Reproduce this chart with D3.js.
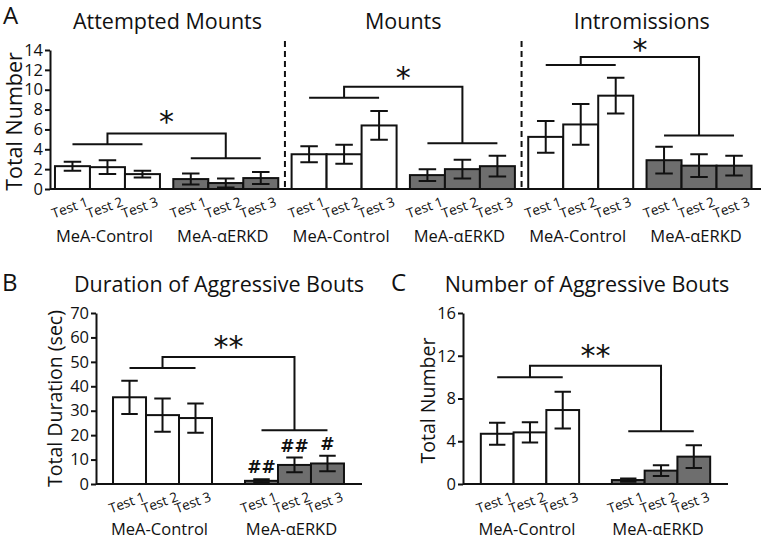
<!DOCTYPE html>
<html><head><meta charset="utf-8">
<script src="https://cdn.jsdelivr.net/npm/d3@7"></script>
<style>body{margin:0;background:#fff}svg{display:block}text{font-family:"Open Sans",sans-serif;fill:#111}</style>
</head><body>
<svg id="c" width="762" height="541"></svg>
<script>
// ---------- data ----------
const groups = ["MeA-Control", "MeA-\u03B1ERKD"];
const tests = ["Test 1", "Test 2", "Test 3"];
const panelATitles = ["Attempted Mounts", "Mounts", "Intromissions"];
const panelATicks = [0, 2, 4, 6, 8, 10, 12, 14];
const panelBTicks = [0, 10, 20, 30, 40, 50, 60, 70];
const panelCTicks = [0, 4, 8, 12, 16];

const attemptedControl = [2.3, 2.2, 1.5];
const attemptedControlSem = [0.45, 0.7, 0.35];
const attemptedErkd = [1.0, 0.6, 1.1];
const attemptedErkdSem = [0.55, 0.45, 0.6];

const mountsControl = [3.5, 3.5, 6.4];
const mountsControlSem = [0.8, 0.95, 1.45];
const mountsErkd = [1.4, 2.0, 2.3];
const mountsErkdSem = [0.6, 0.95, 1.05];

const intromControl = [5.25, 6.5, 9.4];
const intromControlSem = [1.6, 2.05, 1.8];
const intromErkd = [2.9, 2.35, 2.35];
const intromErkdSem = [1.35, 1.15, 1.0];

const durationControl = [35.5, 28.2, 27.0];
const durationControlSem = [6.8, 6.8, 6.0];
const durationErkd = [1.3, 7.8, 8.4];
const durationErkdSem = [0.6, 3.0, 3.2];
const durationHash = ["##", "##", "#"];

const numberControl = [4.7, 4.83, 6.92];
const numberControlSem = [1.03, 0.95, 1.72];
const numberErkd = [0.37, 1.25, 2.56];
const numberErkdSem = [0.15, 0.5, 1.07];

// significance brackets: [control level, top level, ERKD level], star level
const attemptedBracket = [4.5, 5.6, 3.1], attemptedStar = 7.15;
const mountsBracket = [9.2, 10.3, 4.6], mountsStar = 11.6;
const intromBracket = [12.5, 13.3, 5.4], intromStar = 14.4;
const durationBracket = [47.5, 52, 22], durationStar = 57.8;
const numberBracket = [10, 11.07, 4.93], numberStar = 12.35;

// ---------- drawing ----------
const svg = d3.select("#c");
const DARK = "#6e6e6e", LW = 2;

function drawGroups(g, xOuter, keys, y, sets, groupDy) {
  keys.forEach((k, gi) => {
    const set = sets[gi];
    const xi = d3.scaleBand().domain(tests).range([xOuter(k), xOuter(k) + xOuter.bandwidth()]).padding(0);
    const gg = g.append("g");
    gg.selectAll("rect").data(tests).join("rect")
      .attr("x", t => xi(t)).attr("width", xi.bandwidth())
      .attr("y", (t, i) => y(set.means[i])).attr("height", (t, i) => y(0) - y(set.means[i]))
      .attr("fill", set.fill).attr("stroke", "#111").attr("stroke-width", LW);
    const cw = xi.bandwidth() * 0.25;
    tests.forEach((t, i) => {
      const cx = xi(t) + xi.bandwidth() / 2;
      const hi = y(set.means[i] + set.sems[i]), lo = y(Math.max(0, set.means[i] - set.sems[i]));
      gg.append("path").attr("d", `M${cx},${hi}V${lo}M${cx - cw},${hi}H${cx + cw}M${cx - cw},${lo}H${cx + cw}`)
        .attr("stroke", "#111").attr("stroke-width", LW).attr("fill", "none");
      if (set.labels) {
        gg.append("text").attr("x", cx).attr("y", hi - 6).attr("text-anchor", "middle")
          .attr("font-size", 17).attr("font-weight", "bold").style("font-family", "DejaVu Sans").text(set.labels[i]);
      }
    });
    tests.forEach(t => {
      const cx = xi(t) + xi.bandwidth() / 2;
      g.append("text").attr("transform", `translate(${cx - 1},${y(0) + 23}) rotate(-20)`)
        .attr("text-anchor", "middle").attr("font-size", 13.5).text(t);
    });
    g.append("text").attr("x", xOuter(k) + xOuter.bandwidth() / 2 - 3).attr("y", y(0) + groupDy)
      .attr("text-anchor", "middle").attr("font-size", 16.5).text(groups[gi]);
  });
}

function bracket(g, xOuter, keys, y, lv, star, nStars) {
  const bw = xOuter.bandwidth(), inner = bw / 3;
  const c0 = xOuter(keys[0]), c1 = xOuter(keys[1]);
  const a0 = c0 + inner / 2, a1 = c0 + bw - inner / 2, m0 = c0 + bw / 2;
  const b0 = c1 + inner / 2, b1 = c1 + bw - inner / 2, m1 = c1 + bw / 2;
  g.append("path").attr("d",
    `M${a0},${y(lv[0])}H${a1}M${m0},${y(lv[0])}V${y(lv[1])}H${m1}V${y(lv[2])}M${b0},${y(lv[2])}H${b1}`)
    .attr("stroke", "#111").attr("stroke-width", LW).attr("fill", "none");
  g.append("text").attr("x", (m0 + m1) / 2).attr("y", y(star) + 14).attr("text-anchor", "middle")
    .attr("font-size", 30).style("font-family", "DejaVu Sans").text("*".repeat(nStars));
}

function yAxis(g, y, ticks, x0) {
  const ax = g.append("g").attr("transform", `translate(${x0},0)`)
    .call(d3.axisLeft(y).tickValues(ticks).tickSize(5).tickPadding(2).tickSizeOuter(0));
  ax.attr("font-size", null).attr("font-family", null);
  ax.select(".domain").attr("stroke", "#111").attr("stroke-width", LW);
  ax.selectAll(".tick line").attr("stroke", "#111").attr("stroke-width", LW);
  ax.selectAll(".tick text").style("font-size", "16.5px").style("font-family", '"Open Sans",sans-serif').attr("fill", "#111");
  return ax;
}

// ---------- Panel A ----------
{
  const g = svg.append("g");
  const keysA = ["am-c", "am-e", "m-c", "m-e", "i-c", "i-e"];
  const x = d3.scaleBand().domain(keysA).range([50, 756.5]).paddingInner(0.1127).paddingOuter(0.042);
  const y = d3.scaleLinear().domain([0, 14]).range([189, 50]);
  yAxis(g, y, panelATicks, 50);
  g.append("line").attr("x1", 50).attr("x2", 761).attr("y1", y(0)).attr("y2", y(0)).attr("stroke", "#111").attr("stroke-width", LW);
  const sets = [
    [{means: attemptedControl, sems: attemptedControlSem, fill: "#fff"}, {means: attemptedErkd, sems: attemptedErkdSem, fill: DARK}],
    [{means: mountsControl, sems: mountsControlSem, fill: "#fff"}, {means: mountsErkd, sems: mountsErkdSem, fill: DARK}],
    [{means: intromControl, sems: intromControlSem, fill: "#fff"}, {means: intromErkd, sems: intromErkdSem, fill: DARK}]
  ];
  const br = [[attemptedBracket, attemptedStar], [mountsBracket, mountsStar], [intromBracket, intromStar]];
  for (let p = 0; p < 3; p++) {
    const keys = keysA.slice(p * 2, p * 2 + 2);
    drawGroups(g, x, keys, y, sets[p], 53);
    bracket(g, x, keys, y, br[p][0], br[p][1], 1);
    const left = p === 0 ? 50 : (x(keysA[p * 2 - 1]) + x.bandwidth() + x(keysA[p * 2])) / 2;
    const right = p === 2 ? 762 : (x(keysA[p * 2 + 1]) + x.bandwidth() + x(keysA[p * 2 + 2])) / 2;
    g.append("text").attr("x", (left + right) / 2).attr("y", 29).attr("text-anchor", "middle")
      .attr("font-size", 21.5).text(panelATitles[p]);
    if (p > 0) {
      g.append("line").attr("x1", left).attr("x2", left).attr("y1", y(14.9)).attr("y2", y(0))
        .attr("stroke", "#111").attr("stroke-width", LW).attr("stroke-dasharray", "6,4");
    }
  }
  g.append("text").attr("transform", `translate(22,${(y(0) + y(14)) / 2 + 2}) rotate(-90)`)
    .attr("text-anchor", "middle").attr("font-size", 21.5).text("Total Number");
  svg.append("text").attr("x", 3).attr("y", 24).attr("font-size", 24).text("A");
}

// ---------- Panel B ----------
{
  const g = svg.append("g");
  const keys = ["c", "e"];
  const x = d3.scaleBand().domain(keys).range([96, 361]).paddingInner(0.25).paddingOuter(0.129);
  const y = d3.scaleLinear().domain([0, 70]).range([484, 313]);
  yAxis(g, y, panelBTicks, 96);
  g.append("line").attr("x1", 96).attr("x2", 362).attr("y1", y(0)).attr("y2", y(0)).attr("stroke", "#111").attr("stroke-width", LW);
  drawGroups(g, x, keys, y, [
    {means: durationControl, sems: durationControlSem, fill: "#fff"},
    {means: durationErkd, sems: durationErkdSem, fill: DARK, labels: durationHash}], 51);
  bracket(g, x, keys, y, durationBracket, durationStar, 2);
  g.append("text").attr("x", 219).attr("y", 292).attr("text-anchor", "middle").attr("font-size", 21.5).text("Duration of Aggressive Bouts");
  g.append("text").attr("transform", `translate(62,${(y(0) + y(70)) / 2}) rotate(-90)`)
    .attr("text-anchor", "middle").attr("font-size", 19.5).text("Total Duration (sec)");
  svg.append("text").attr("x", 2).attr("y", 291).attr("font-size", 24).text("B");
}

// ---------- Panel C ----------
{
  const g = svg.append("g");
  const keys = ["c", "e"];
  const x = d3.scaleBand().domain(keys).range([463, 728]).paddingInner(0.25).paddingOuter(0.136);
  const y = d3.scaleLinear().domain([0, 16]).range([484, 313]);
  yAxis(g, y, panelCTicks, 463);
  g.append("line").attr("x1", 463).attr("x2", 728).attr("y1", y(0)).attr("y2", y(0)).attr("stroke", "#111").attr("stroke-width", LW);
  drawGroups(g, x, keys, y, [
    {means: numberControl, sems: numberControlSem, fill: "#fff"},
    {means: numberErkd, sems: numberErkdSem, fill: DARK}], 51);
  bracket(g, x, keys, y, numberBracket, numberStar, 2);
  g.append("text").attr("x", 587).attr("y", 292).attr("text-anchor", "middle").attr("font-size", 21.5).text("Number of Aggressive Bouts");
  g.append("text").attr("transform", `translate(435,${(y(0) + y(16)) / 2 + 2}) rotate(-90)`)
    .attr("text-anchor", "middle").attr("font-size", 19.5).text("Total Number");
  svg.append("text").attr("x", 391).attr("y", 291).attr("font-size", 24).text("C");
}
</script>
</body></html>
